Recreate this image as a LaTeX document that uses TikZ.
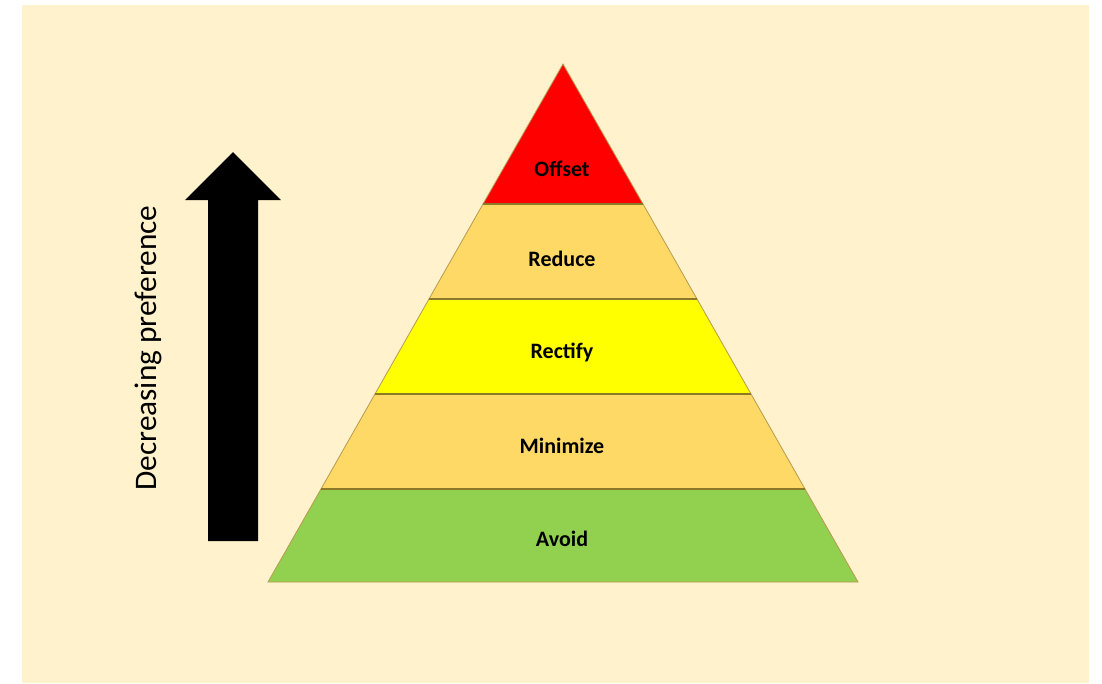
\documentclass[tikz,border=0pt]{standalone}
\usepackage{fontspec}
\setmainfont{Carlito}
\definecolor{bgcream}{HTML}{FFF2CC}
\definecolor{offsetred}{HTML}{FF0000}
\definecolor{paleorange}{HTML}{FFD966}
\definecolor{rectyellow}{HTML}{FFFF00}
\definecolor{avoidgreen}{HTML}{92D050}
\definecolor{edgegold}{HTML}{B89A50}
\definecolor{bandline}{HTML}{8C7A28}

\begin{document}
\begin{tikzpicture}[x=0.75pt,y=-0.75pt,
    layer/.style={draw=edgegold,line width=0.6pt},
    band/.style={draw=bandline,line width=0.9pt},
    lbl/.style={font=\bfseries\fontsize{16.5}{18}\selectfont}]
                    \useasboundingbox (0,0) rectangle (1102,683);
                    \fill [bgcream](22,5) rectangle (1089,683);
                    % pyramid layers
                    \draw [layer,fill=avoidgreen](268,582)--(858,582)--(805,489)--(321,489)--cycle;
                    \draw [layer,fill=paleorange](321,489)--(805,489)--(751,394)--(375,394)--cycle;
                    \draw [layer,fill=rectyellow](375,394)--(751,394)--(697,299)--(429,299)--cycle;
                    \draw [layer,fill=paleorange](429,299)--(697,299)--(643,204)--(483,204)--cycle;
                    \draw [layer,fill=offsetred](483,204)--(643,204)--(563,64)--cycle;
                    \draw [band](321,489)--(805,489);
                    \draw [band](375,394)--(751,394);
                    \draw [band](429,299)--(697,299);
                    \draw [band](483,204)--(643,204);
                    \node [lbl] (offset) at (562,169) {Offset};
                    \node [lbl] (reduce) at (562,259) {Reduce};
                    \node [lbl] (rectify) at (562,352) {Rectify};
                    \node [lbl] (minimize) at (562,446) {Minimize};
                    \node [lbl] (avoid) at (562,539) {Avoid};
                    % preference arrow
                    \fill [black](208,541)--(208,200)--(185,200)--(233,152)--(281,200)--(258,200)--(258,541)--cycle;
                    \node [rotate=90,font=\fontsize{23.5}{27}\selectfont] (pref) at (148,348) {Decreasing preference};
\end{tikzpicture}
\end{document}
